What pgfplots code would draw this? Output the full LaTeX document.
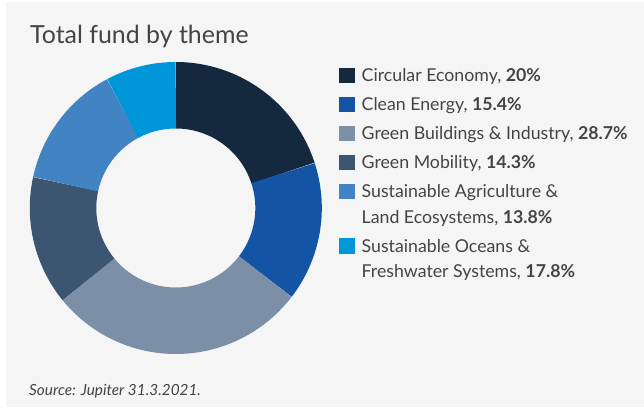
\documentclass[border=0pt]{standalone}
\usepackage{pgfplots}
\pgfplotsset{compat=1.18}
\usepackage{pgfplotstable}
\usepackage{fontspec}
\setmainfont{Lato}
\definecolor{cNavy}{HTML}{14283E}
\definecolor{cBlue}{HTML}{1454A4}
\definecolor{cGray}{HTML}{7B8FA7}
\definecolor{cSlate}{HTML}{3C5570}
\definecolor{cMed}{HTML}{4283C4}
\definecolor{cLight}{HTML}{0096DA}
\definecolor{bg}{HTML}{F5F5F5}
\definecolor{txt}{HTML}{444444}
\newcommand\st{\rule[-7.35bp]{0pt}{24.5bp}}
% share of the ring drawn for each theme (percent)
\pgfplotstableread{
theme value
CircularEconomy 20
CleanEnergy 15.4
GreenBuildings 28.7
GreenMobility 14.3
SustAgriculture 13.8
SustOceans 7.8
}\slices
\pgfplotstablegetelem{0}{value}\of\slices
\pgfmathsetmacro\aB{90-3.6*\pgfplotsretval}
\pgfplotstablegetelem{1}{value}\of\slices
\pgfmathsetmacro\aC{\aB-3.6*\pgfplotsretval}
\pgfplotstablegetelem{2}{value}\of\slices
\pgfmathsetmacro\aD{\aC-3.6*\pgfplotsretval}
\pgfplotstablegetelem{3}{value}\of\slices
\pgfmathsetmacro\aE{\aD-3.6*\pgfplotsretval}
\pgfplotstablegetelem{4}{value}\of\slices
\pgfmathsetmacro\aF{\aE-3.6*\pgfplotsretval}
\pgfplotstablegetelem{5}{value}\of\slices
\pgfmathsetmacro\aG{\aF-3.6*\pgfplotsretval}
\begin{document}
\begin{tikzpicture}
\fill[white] (0,0) rectangle (644bp,416bp);
\fill[bg] (6bp,9bp) rectangle (644bp,414bp);
\begin{axis}[
  at={(0,0)}, anchor=south west,
  width=644bp, height=416bp, scale only axis,
  xmin=0, xmax=644, ymin=0, ymax=416,
  hide axis, clip=false,
  samples=120,
  legend image code/.code={\fill[#1,draw=none] (0bp,-1.2bp) rectangle (16bp,14.4bp);},
  legend style={at={(axis cs:339,351.2)}, anchor=north west,
    draw=none, fill=none, inner sep=0pt, outer sep=0pt,
    column sep=6.7bp, row sep=4.5bp,
    font=\fontsize{17.8}{24.5}\selectfont, text=txt,
    cells={anchor=base west},
    nodes={inner sep=0pt, outer sep=0pt, text depth=, text height=}},
]
\addplot[color=cNavy, line width=66.5bp, domain=\aB:90] ({175.8+112.75*cos(x)},{208+112.75*sin(x)});
\addlegendentry{\st Circular Economy, \textbf{20\%}}
\addplot[color=cBlue, line width=66.5bp, domain=\aC:\aB] ({175.8+112.75*cos(x)},{208+112.75*sin(x)});
\addlegendentry{\st Clean Energy, \textbf{15.4\%}}
\addplot[color=cGray, line width=66.5bp, domain=\aD:\aC] ({175.8+112.75*cos(x)},{208+112.75*sin(x)});
\addlegendentry{\st Green Buildings \& Industry, \textbf{28.7\%}}
\addplot[color=cSlate, line width=66.5bp, domain=\aE:\aD] ({175.8+112.75*cos(x)},{208+112.75*sin(x)});
\addlegendentry{\st Green Mobility, \textbf{14.3\%}}
\addplot[color=cMed, line width=66.5bp, domain=\aF:\aE] ({175.8+112.75*cos(x)},{208+112.75*sin(x)});
\addlegendentry{\parbox[t]{280bp}{\st Sustainable Agriculture \&\\\st Land Ecosystems, \textbf{13.8\%}}}
\addplot[color=cLight, line width=66.5bp, domain=\aG:\aF] ({175.8+112.75*cos(x)},{208+112.75*sin(x)});
\addlegendentry{\parbox[t]{280bp}{\st Sustainable Oceans \&\\\st Freshwater Systems, \textbf{17.8\%}}}
\node[anchor=base west, inner sep=0pt, text=txt, font=\fontsize{25}{29}\selectfont] at (axis cs:30,372) {Total fund by theme};
\node[anchor=base west, inner sep=0pt, text=txt, font=\itshape\fontsize{15.4}{18}\selectfont] at (axis cs:29,21) {Source: Jupiter 31.3.2021.};
\end{axis}
\pgfresetboundingbox
\useasboundingbox (0,0) rectangle (644bp,416bp);
\end{tikzpicture}
\end{document}
